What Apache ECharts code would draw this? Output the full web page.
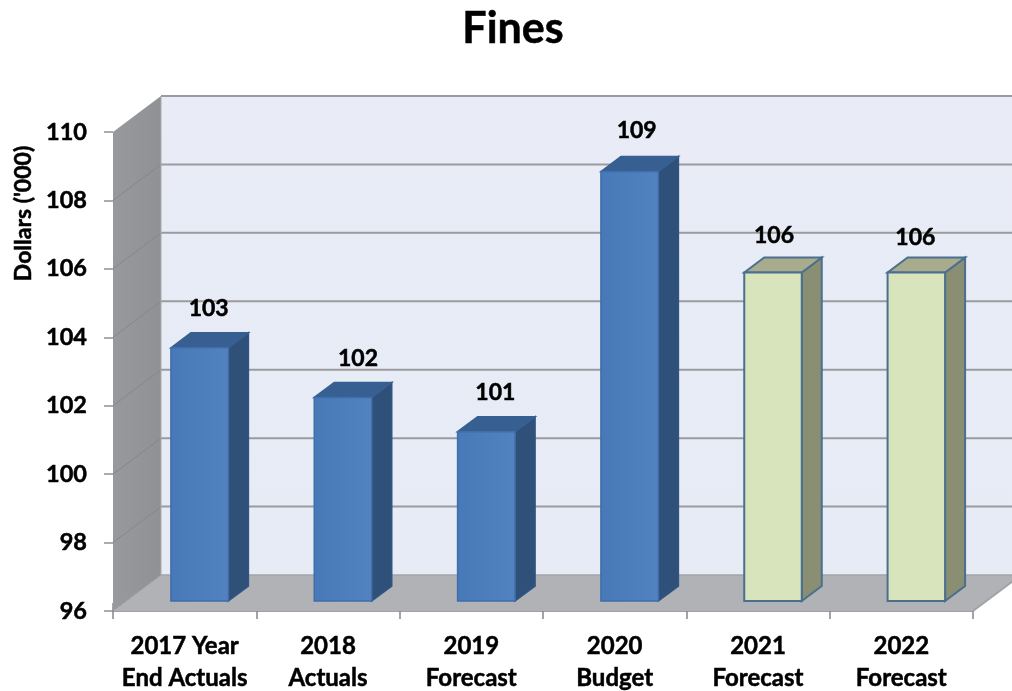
<!DOCTYPE html>
<html><head><meta charset="utf-8">
<style>html,body{margin:0;padding:0;background:#fff}#c{width:1012px;height:691px}</style>
<script src="https://cdn.jsdelivr.net/npm/echarts@6/dist/echarts.min.js"></script>
</head><body><div id="c"></div>
<script>
const categories = ['2017 Year\nEnd Actuals','2018\nActuals','2019\nForecast','2020\nBudget','2021\nForecast','2022\nForecast'];
const values = [103.4,101.95,100.95,108.55,105.6,105.6];
const isPlan = [false,false,false,false,true,true];
const yTicks = [96,98,100,102,104,106,108,110];
const labelShiftX = [9,15,9,7,1,-1];
const labelShiftY = [0,0,0,-2,2,4];
const FONT = 'Lato, "Open Sans", sans-serif';
const WALL = {dx:48, dy:-36}, BAR = {w:57.5, off:15, lift:10, dx:20, dy:-15};
const HEAVY = {textBorderColor:'#000', textBorderWidth:0.5};
const poly = (points, style, extra) => Object.assign({type:'polygon', shape:{points}, style}, extra||{});
const seg = (a,b,stroke,lineWidth) => ({type:'line', shape:{x1:a[0],y1:a[1],x2:b[0],y2:b[1]}, style:{stroke,lineWidth,fill:null}});
const grad = (x2,y2,c0,c1) => ({type:'linear',x:0,y:0,x2,y2,colorStops:[{offset:0,color:c0},{offset:1,color:c1}]});

function renderWalls(params, api){
  const band = api.size([1,0])[0];
  const n = categories.length;
  const yMin = yTicks[0], yMax = yTicks[yTicks.length-1];
  const c0 = api.coord([0,yMin]), c1 = api.coord([0,yMax]);
  const L = c0[0]-band/2, R = L+band*n, B = c0[1], T = c1[1];
  const {dx,dy} = WALL;
  const kids = [
    poly([[L+dx,T+dy],[R+dx,T+dy],[R+dx,B+dy],[L+dx,B+dy]],{fill:grad(0,1,'#e9ecf6','#e6ebf5')}),
    poly([[L,T],[L+dx,T+dy],[L+dx,B+dy],[L,B]],{fill:grad(1,0,'#97999c','#8f9194')}),
    poly([[L,B],[R,B],[R+dx,B+dy],[L+dx,B+dy]],{fill:'#b1b2b5'})
  ];
  yTicks.forEach((t,i)=>{
    const y = api.coord([0,t])[1];
    if(i>0) kids.push(seg([L+dx,y+dy],[R+dx,y+dy],'#9a9b9e',2));
    if(i>0 && i<yTicks.length-1) kids.push(seg([L,y],[L+dx,y+dy],'#85878a',1));
  });
  kids.push(seg([L,B],[L+dx,B+dy],'#9b9c9f',1));
  kids.push(seg([L+dx,B+dy],[R+dx,B+dy],'#a3a4a7',1.5));
  kids.push(seg([R,B],[R+dx,B+dy],'#a3a4a7',2));
  kids.push(seg([L+dx,T+dy],[L+dx,B+dy],'#a8aaad',1));
  return {type:'group', children:kids};
}

function renderBar(params, api){
  const i = api.value(0), v = api.value(1);
  const base = api.coord([i,yTicks[0]]), top = api.coord([i,v]);
  const {w,off,lift,dx,dy} = BAR;
  const x0 = base[0]-w/2 + off;
  const x1 = x0+w, yb = base[1]-lift, yt = top[1]-lift;
  const plan = isPlan[i];
  const stroke = plan ? '#4a6f8f' : '#3f6ea8';
  const lw = plan ? 2 : 1.5;
  const front = plan ? '#d8e4bc' : grad(1,0,'#4779b8','#5283c0');
  const side = plan ? '#8a8f73' : '#2f5078';
  const cap = plan ? '#a8ac8c' : '#375f92';
  const sideStroke = plan ? stroke : '#2f5585';
  const capStroke = plan ? stroke : '#375f92';
  return {type:'group', children:[
    poly([[x1,yb],[x1+dx,yb+dy],[x1+dx,yt+dy],[x1,yt]],{fill:side,stroke:sideStroke,lineWidth:lw}),
    poly([[x0,yt],[x0+dx,yt+dy],[x1+dx,yt+dy],[x1,yt]],{fill:cap,stroke:capStroke,lineWidth:lw}),
    {type:'rect',shape:{x:x0,y:yt,width:w,height:yb-yt},style:{fill:front,stroke,lineWidth:lw}},
    {type:'text',x:(x0+x1)/2+labelShiftX[i],y:yt+dy-24+labelShiftY[i],
      style:{text:String(Math.round(v)),fill:'#000',font:'bold 23px '+FONT,align:'center',verticalAlign:'middle',stroke:'#000',lineWidth:0.5}}
  ]};
}

const chart = echarts.init(document.getElementById('c'),null,{renderer:'canvas'});
chart.setOption({
  animation:false,
  backgroundColor:'#fff',
  title:{text:'Fines',left:508,top:3,textAlign:'center',
    textStyle:Object.assign({fontFamily:FONT,fontWeight:'bold',fontSize:43,color:'#000'},HEAVY)},
  grid:{left:113,right:39,top:132,bottom:80,containLabel:false,outerBoundsMode:'none'},
  xAxis:[{type:'category',data:categories,position:'bottom',
    axisLine:{show:true,onZero:false,lineStyle:{color:'#a0a1a4',width:2}},
    axisTick:{show:true,length:8,alignWithLabel:false,lineStyle:{color:'#85878a',width:1.5}},
    splitLine:{show:false},
    axisLabel:Object.assign({interval:0,margin:19,color:'#000',fontFamily:FONT,fontWeight:'bold',fontSize:24,lineHeight:32},HEAVY)},
   {type:'category',data:categories,position:'bottom',
    axisLine:{show:false},
    axisTick:{show:true,inside:true,length:8,lineStyle:{color:'#85878a',width:1.5}},
    axisLabel:{show:false},splitLine:{show:false}}],
  yAxis:{type:'value',min:96,max:110,interval:2,
    name:"Dollars ('000)",nameLocation:'middle',nameGap:77,nameRotate:90,
    nameTextStyle:Object.assign({fontFamily:FONT,fontWeight:'bold',fontSize:23,color:'#000',padding:[0,0,0,316]},HEAVY),
    axisLine:{show:false},
    axisTick:{show:true,length:9,lineStyle:{color:'#8f9194',width:1.5}},
    splitLine:{show:false},
    axisLabel:Object.assign({margin:26,color:'#000',fontFamily:FONT,fontWeight:'bold',fontSize:23.5},HEAVY)},
  series:[
    {type:'custom',name:'walls',z:1,clip:false,silent:true,renderItem:renderWalls,data:[[0,96]],encode:{x:0,y:1}},
    {type:'custom',name:'Fines',z:3,clip:false,renderItem:renderBar,encode:{x:0,y:1},
      data:values.map((v,i)=>[i,v])}
  ]
});
</script></body></html>
